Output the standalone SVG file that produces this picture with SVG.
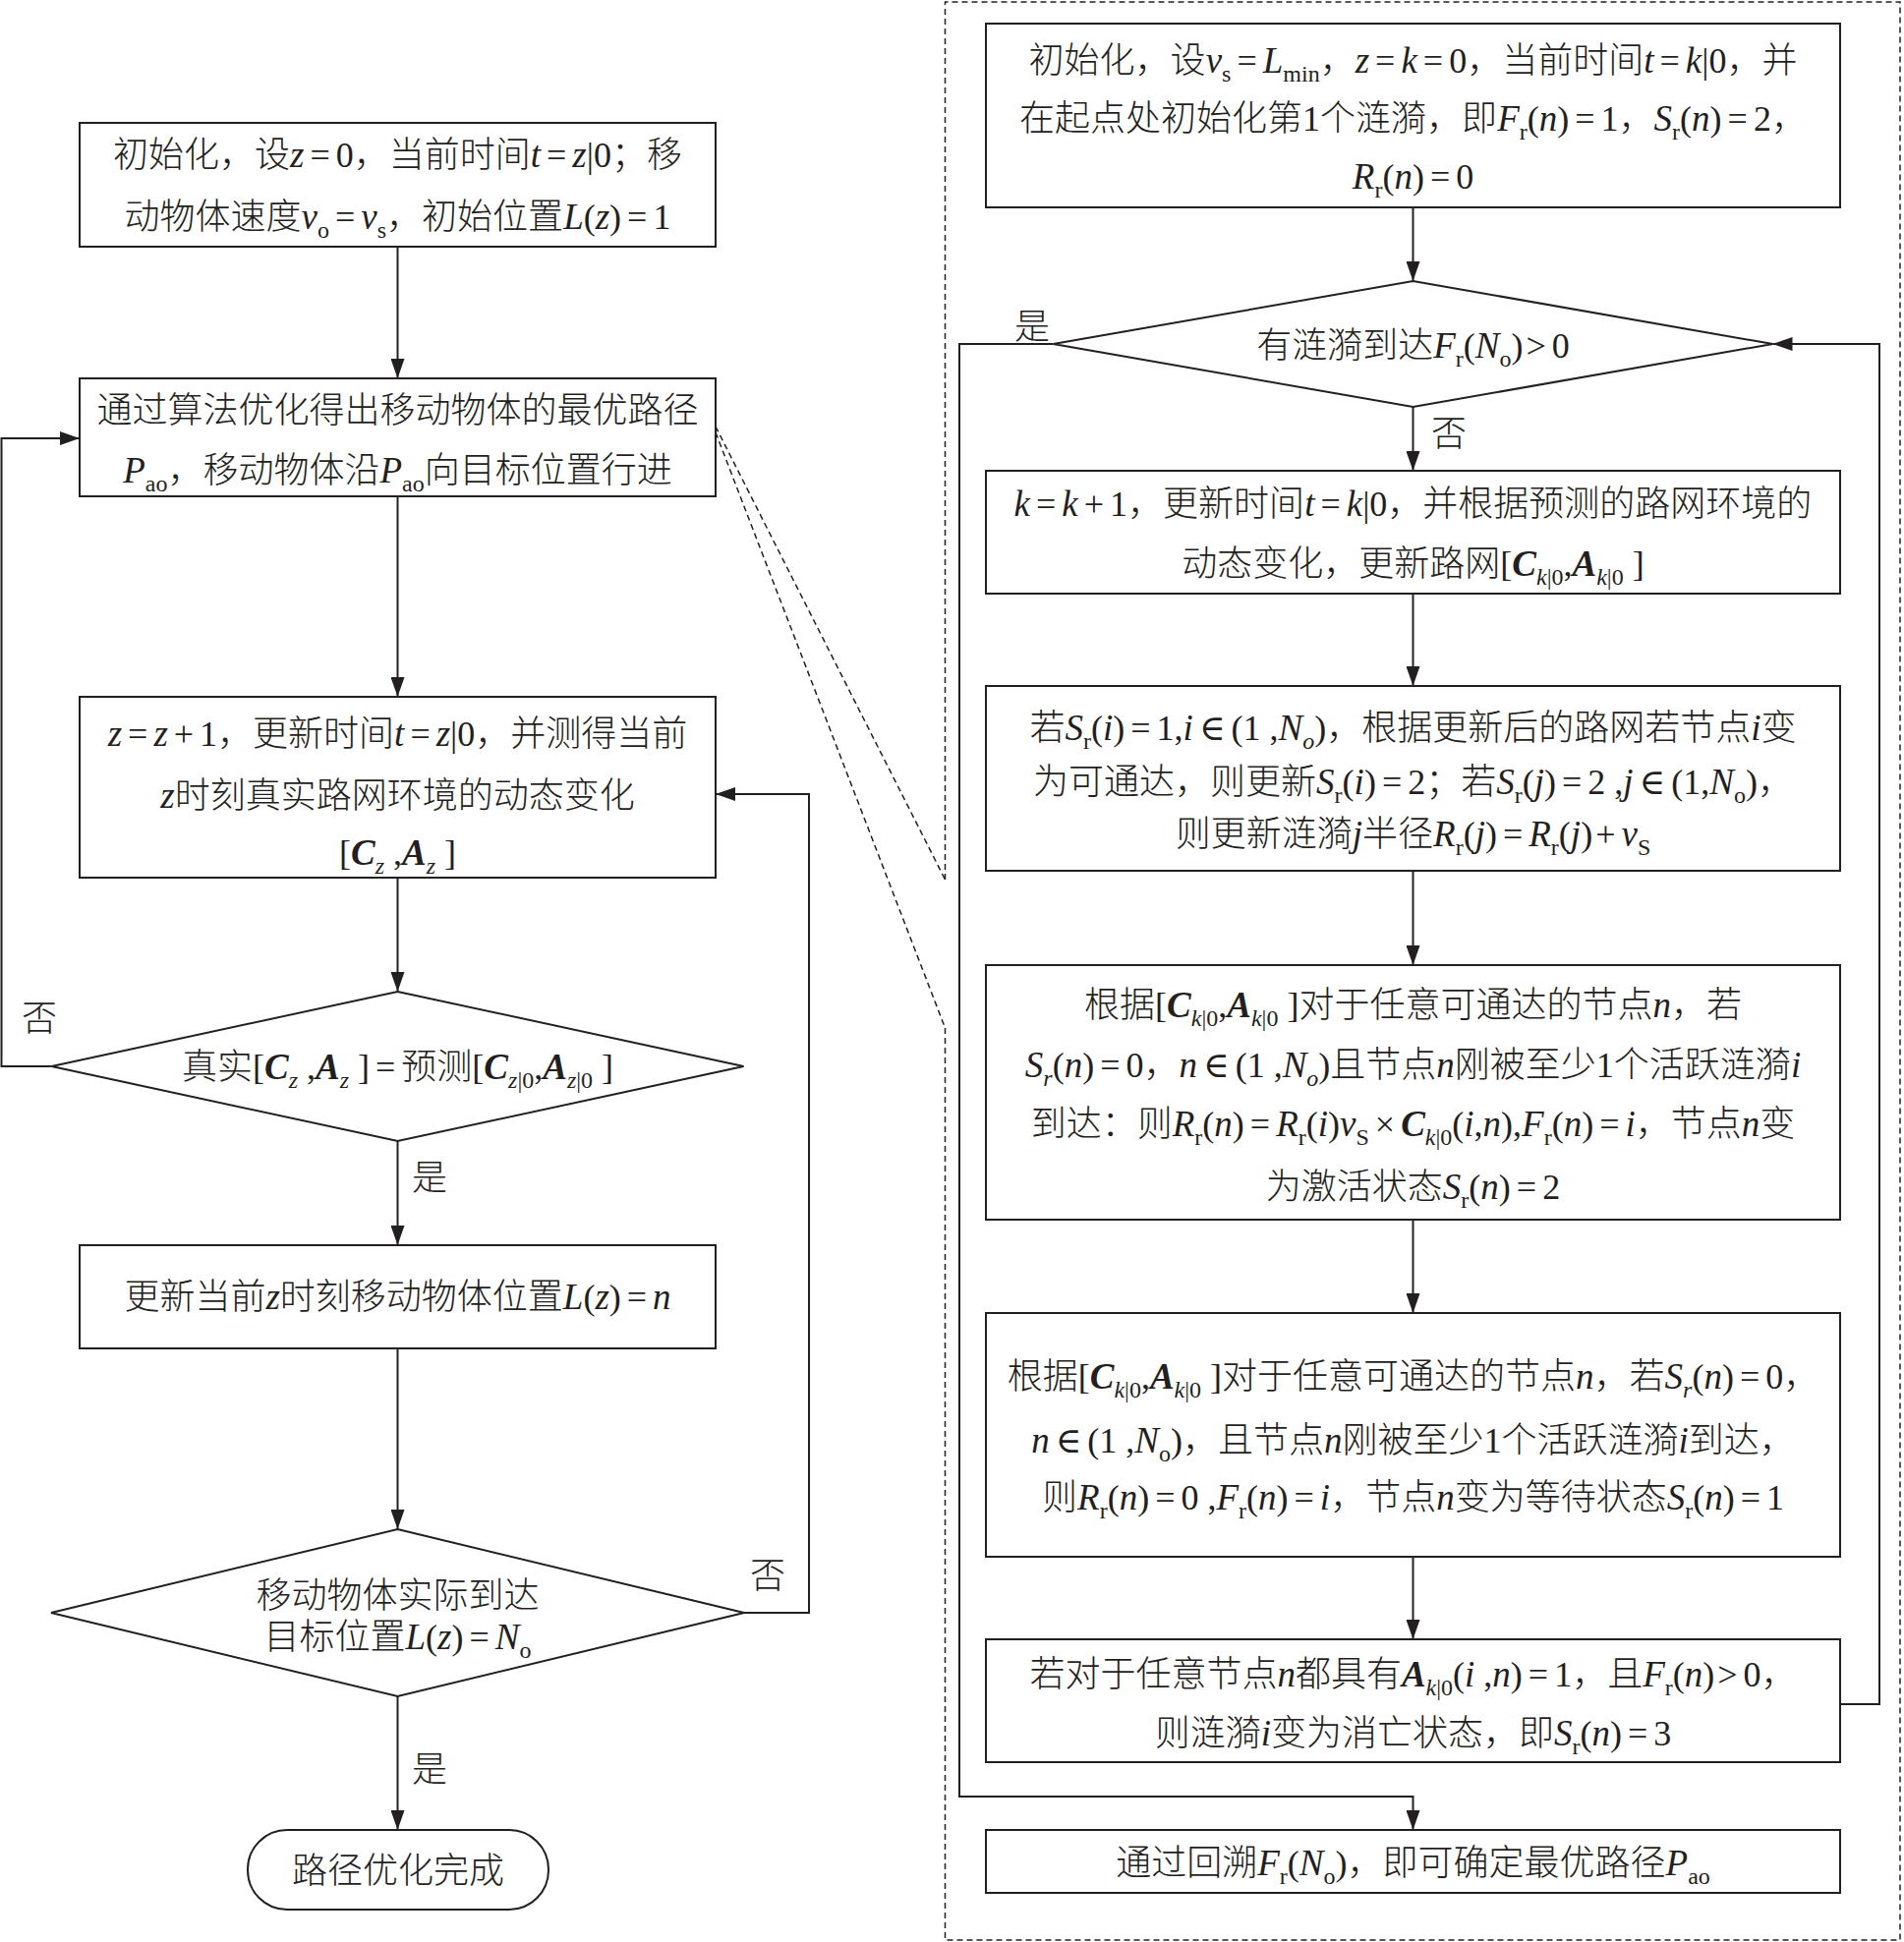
<svg xmlns="http://www.w3.org/2000/svg" width="1937" height="1976" viewBox="0 0 1937 1976">
<style>
text{font-family:"Liberation Serif","DejaVu Serif","Noto Sans CJK SC",serif;font-size:36px;font-weight:300;fill:#231f20;text-anchor:middle}
.i{font-style:italic;font-size:37px}
.b{font-style:italic;font-weight:bold;font-size:37px}
.s{font-size:24px}
.o{letter-spacing:6px}
.box{fill:#fff;stroke:#231f20;stroke-width:2}
.ln{fill:none;stroke:#231f20;stroke-width:2}
.ar{marker-end:url(#ah)}
.dash{fill:none;stroke:#231f20;stroke-width:1.5;stroke-dasharray:6 4}
</style>
<defs>
<marker id="ah" markerUnits="userSpaceOnUse" markerWidth="20" markerHeight="14" refX="20" refY="7" orient="auto"><path d="M0,0L20,7L0,14z" fill="#231f20"/></marker>
</defs>
<rect width="1937" height="1976" fill="#fff"/>

<g id="frame">
<path class="dash" d="M961.5,895V2H1933V1974H961.5V1046"/>
<path class="dash" d="M728,434L961.5,895M728,440L961.5,1046"/>
</g>

<g id="connectors">
<path class="ln ar" d="M404.5,251V385"/>
<path class="ln ar" d="M404.5,505V709"/>
<path class="ln ar" d="M404.5,893V1009"/>
<path class="ln ar" d="M404.5,1161V1267"/>
<path class="ln ar" d="M404.5,1372V1556"/>
<path class="ln ar" d="M404.5,1726V1862"/>
<path class="ln ar" d="M52.5,1085H1.5V446H81"/>
<path class="ln ar" d="M757,1641H823V808H728"/>
<path class="ln ar" d="M1437.5,211V286"/>
<path class="ln ar" d="M1437.5,414V479"/>
<path class="ln ar" d="M1437.5,604V698"/>
<path class="ln ar" d="M1437.5,886V982"/>
<path class="ln ar" d="M1437.5,1241V1336"/>
<path class="ln ar" d="M1437.5,1584V1668"/>
<path class="ln ar" d="M1872,1734H1912V350H1803.5"/>
<path class="ln ar" d="M1071.5,350H976V1828H1437.5V1862"/>
<text x="40" y="1049">否</text>
<text x="437" y="1211">是</text>
<text x="781" y="1616">否</text>
<text x="437" y="1813">是</text>
<text x="1050" y="345">是</text>
<text x="1474" y="454">否</text>
</g>

<g id="box1">
<rect class="box" x="81" y="125" width="647" height="126"/>
<text x="404.5" y="170">初始化，设<tspan class="i">z</tspan><tspan class="o" dx="6">=</tspan>0，当前时间<tspan class="i">t</tspan><tspan class="o" dx="6">=</tspan><tspan class="i">z</tspan>|0；移</text>
<text x="404.5" y="233">动物体速度<tspan class="i">v</tspan><tspan class="s" dy="9">o</tspan><tspan class="o" dx="6" dy="-9">=</tspan><tspan class="i">v</tspan><tspan class="s" dy="9">s</tspan><tspan dy="-9">，初始位置</tspan><tspan class="i">L</tspan>(<tspan class="i">z</tspan>)<tspan class="o" dx="6">=</tspan>1</text>
</g>

<g id="box2">
<rect class="box" x="81" y="385" width="647" height="120"/>
<text x="404.5" y="430">通过算法优化得出移动物体的最优路径</text>
<text x="404.5" y="491"><tspan class="i">P</tspan><tspan class="s" dy="9">ao</tspan><tspan dy="-9">，移动物体沿</tspan><tspan class="i">P</tspan><tspan class="s" dy="9">ao</tspan><tspan dy="-9">向目标位置行进</tspan></text>
</g>

<g id="box3">
<rect class="box" x="81" y="709" width="647" height="184"/>
<text x="404.5" y="759"><tspan class="i">z</tspan><tspan class="o" dx="6">=</tspan><tspan class="i">z</tspan><tspan class="o" dx="6">+</tspan>1，更新时间<tspan class="i">t</tspan><tspan class="o" dx="6">=</tspan><tspan class="i">z</tspan>|0，并测得当前</text>
<text x="404.5" y="822"><tspan class="i">z</tspan>时刻真实路网环境的动态变化</text>
<text x="404.5" y="880">[<tspan class="b">C</tspan><tspan class="s i" dy="9">z</tspan><tspan dy="-9"> ,</tspan><tspan class="b">A</tspan><tspan class="s i" dy="9">z</tspan><tspan dy="-9"> ]</tspan></text>
</g>

<g id="decision1">
<polygon class="box" points="404.5,1009 756.5,1085 404.5,1161 52.5,1085"/>
<text x="404.5" y="1098">真实[<tspan class="b">C</tspan><tspan class="s i" dy="9">z</tspan><tspan dy="-9"> ,</tspan><tspan class="b">A</tspan><tspan class="s i" dy="9">z</tspan><tspan dy="-9"> ]</tspan><tspan class="o" dx="6">=</tspan>预测[<tspan class="b">C</tspan><tspan class="s i" dy="9">z</tspan><tspan class="s">|0</tspan><tspan dy="-9">,</tspan><tspan class="b">A</tspan><tspan class="s i" dy="9">z</tspan><tspan class="s">|0</tspan><tspan dy="-9"> ]</tspan></text>
</g>

<g id="box4">
<rect class="box" x="81" y="1267" width="647" height="105"/>
<text x="404.5" y="1332">更新当前<tspan class="i">z</tspan>时刻移动物体位置<tspan class="i">L</tspan>(<tspan class="i">z</tspan>)<tspan class="o" dx="6">=</tspan><tspan class="i">n</tspan></text>
</g>

<g id="decision2">
<polygon class="box" points="404.5,1556 757,1641 404.5,1726 52,1641"/>
<text x="404.5" y="1636">移动物体实际到达</text>
<text x="404.5" y="1678">目标位置<tspan class="i">L</tspan>(<tspan class="i">z</tspan>)<tspan class="o" dx="6">=</tspan><tspan class="i">N</tspan><tspan class="s" dy="9">o</tspan></text>
</g>

<g id="end">
<rect class="box" x="252" y="1862" width="306" height="81" rx="40" ry="40"/>
<text x="405" y="1916">路径优化完成</text>
</g>

<g id="rbox1">
<rect class="box" x="1003" y="24" width="869" height="187"/>
<text x="1437.5" y="74">初始化，设<tspan class="i">v</tspan><tspan class="s" dy="9">s</tspan><tspan class="o" dx="6" dy="-9">=</tspan><tspan class="i">L</tspan><tspan class="s" dy="9">min</tspan><tspan dy="-9">，</tspan><tspan class="i">z</tspan><tspan class="o" dx="6">=</tspan><tspan class="i">k</tspan><tspan class="o" dx="6">=</tspan>0，当前时间<tspan class="i">t</tspan><tspan class="o" dx="6">=</tspan><tspan class="i">k</tspan>|0，并</text>
<text x="1437.5" y="133">在起点处初始化第1个涟漪，即<tspan class="i">F</tspan><tspan class="s" dy="9">r</tspan><tspan dy="-9">(</tspan><tspan class="i">n</tspan>)<tspan class="o" dx="6">=</tspan>1，<tspan class="i">S</tspan><tspan class="s" dy="9">r</tspan><tspan dy="-9">(</tspan><tspan class="i">n</tspan>)<tspan class="o" dx="6">=</tspan>2，</text>
<text x="1437.5" y="192"><tspan class="i">R</tspan><tspan class="s" dy="9">r</tspan><tspan dy="-9">(</tspan><tspan class="i">n</tspan>)<tspan class="o" dx="6">=</tspan>0</text>
</g>

<g id="rdecision">
<polygon class="box" points="1437.5,286 1803.5,350 1437.5,414 1071.5,350"/>
<text x="1437.5" y="364">有涟漪到达<tspan class="i">F</tspan><tspan class="s" dy="9">r</tspan><tspan dy="-9">(</tspan><tspan class="i">N</tspan><tspan class="s" dy="9">o</tspan><tspan dy="-9">)</tspan><tspan class="o" dx="3">&gt;</tspan>0</text>
</g>

<g id="rbox2">
<rect class="box" x="1003" y="479" width="869" height="125"/>
<text x="1437.5" y="525"><tspan class="i">k</tspan><tspan class="o" dx="6">=</tspan><tspan class="i">k</tspan><tspan class="o" dx="6">+</tspan>1，更新时间<tspan class="i">t</tspan><tspan class="o" dx="6">=</tspan><tspan class="i">k</tspan>|0，并根据预测的路网环境的</text>
<text x="1437.5" y="586">动态变化，更新路网[<tspan class="b">C</tspan><tspan class="s i" dy="9">k</tspan><tspan class="s">|0</tspan><tspan dy="-9">,</tspan><tspan class="b">A</tspan><tspan class="s i" dy="9">k</tspan><tspan class="s">|0</tspan><tspan dy="-9"> ]</tspan></text>
</g>

<g id="rbox3">
<rect class="box" x="1003" y="698" width="869" height="188"/>
<text x="1437.5" y="753">若<tspan class="i">S</tspan><tspan class="s" dy="9">r</tspan><tspan dy="-9">(</tspan><tspan class="i">i</tspan>)<tspan class="o" dx="6">=</tspan>1,<tspan class="i">i</tspan><tspan class="o" dx="6">∈</tspan>(1 ,<tspan class="i">N</tspan><tspan class="s i" dy="9">o</tspan><tspan dy="-9">)，根据更新后的路网若节点</tspan><tspan class="i">i</tspan>变</text>
<text x="1437.5" y="808">为可通达，则更新<tspan class="i">S</tspan><tspan class="s" dy="9">r</tspan><tspan dy="-9">(</tspan><tspan class="i">i</tspan>)<tspan class="o" dx="6">=</tspan>2；若<tspan class="i">S</tspan><tspan class="s" dy="9">r</tspan><tspan dy="-9">(</tspan><tspan class="i">j</tspan>)<tspan class="o" dx="6">=</tspan>2 ,<tspan class="i">j</tspan><tspan class="o" dx="6">∈</tspan>(1,<tspan class="i">N</tspan><tspan class="s" dy="9">o</tspan><tspan dy="-9">)，</tspan></text>
<text x="1437.5" y="861">则更新涟漪<tspan class="i">j</tspan>半径<tspan class="i">R</tspan><tspan class="s" dy="9">r</tspan><tspan dy="-9">(</tspan><tspan class="i">j</tspan>)<tspan class="o" dx="6">=</tspan><tspan class="i">R</tspan><tspan class="s" dy="9">r</tspan><tspan dy="-9">(</tspan><tspan class="i">j</tspan>)<tspan class="o" dx="3">+</tspan><tspan class="i">v</tspan><tspan class="s" dy="9">S</tspan></text>
</g>

<g id="rbox4">
<rect class="box" x="1003" y="982" width="869" height="259"/>
<text x="1437.5" y="1035">根据[<tspan class="b">C</tspan><tspan class="s i" dy="9">k</tspan><tspan class="s">|0</tspan><tspan dy="-9">,</tspan><tspan class="b">A</tspan><tspan class="s i" dy="9">k</tspan><tspan class="s">|0</tspan><tspan dy="-9"> ]对于任意可通达的节点</tspan><tspan class="i">n</tspan>，若</text>
<text x="1437.5" y="1096"><tspan class="i">S</tspan><tspan class="s i" dy="9">r</tspan><tspan dy="-9">(</tspan><tspan class="i">n</tspan>)<tspan class="o" dx="6">=</tspan>0，<tspan class="i">n</tspan><tspan class="o" dx="6">∈</tspan>(1 ,<tspan class="i">N</tspan><tspan class="s i" dy="9">o</tspan><tspan dy="-9">)且节点</tspan><tspan class="i">n</tspan>刚被至少1个活跃涟漪<tspan class="i">i</tspan></text>
<text x="1437.5" y="1156">到达：则<tspan class="i">R</tspan><tspan class="s" dy="9">r</tspan><tspan dy="-9">(</tspan><tspan class="i">n</tspan>)<tspan class="o" dx="6">=</tspan><tspan class="i">R</tspan><tspan class="s" dy="9">r</tspan><tspan dy="-9">(</tspan><tspan class="i">i</tspan>)<tspan class="i">v</tspan><tspan class="s" dy="9">S</tspan><tspan class="o" dx="6" dy="-9">×</tspan><tspan class="b">C</tspan><tspan class="s i" dy="9">k</tspan><tspan class="s">|0</tspan><tspan dy="-9">(</tspan><tspan class="i">i</tspan>,<tspan class="i">n</tspan>),<tspan class="i">F</tspan><tspan class="s" dy="9">r</tspan><tspan dy="-9">(</tspan><tspan class="i">n</tspan>)<tspan class="o" dx="6">=</tspan><tspan class="i">i</tspan>，节点<tspan class="i">n</tspan>变</text>
<text x="1437.5" y="1220">为激活状态<tspan class="i">S</tspan><tspan class="s" dy="9">r</tspan><tspan dy="-9">(</tspan><tspan class="i">n</tspan>)<tspan class="o" dx="6">=</tspan>2</text>
</g>

<g id="rbox5">
<rect class="box" x="1003" y="1336" width="869" height="248"/>
<text x="1437.5" y="1413">根据[<tspan class="b">C</tspan><tspan class="s i" dy="9">k</tspan><tspan class="s">|0</tspan><tspan dy="-9">,</tspan><tspan class="b">A</tspan><tspan class="s i" dy="9">k</tspan><tspan class="s">|0</tspan><tspan dy="-9"> ]对于任意可通达的节点</tspan><tspan class="i">n</tspan>，若<tspan class="i">S</tspan><tspan class="s i" dy="9">r</tspan><tspan dy="-9">(</tspan><tspan class="i">n</tspan>)<tspan class="o" dx="6">=</tspan>0，</text>
<text x="1437.5" y="1478"><tspan class="i">n</tspan><tspan class="o" dx="6">∈</tspan>(1 ,<tspan class="i">N</tspan><tspan class="s" dy="9">o</tspan><tspan dy="-9">)，且节点</tspan><tspan class="i">n</tspan>刚被至少1个活跃涟漪<tspan class="i">i</tspan>到达，</text>
<text x="1437.5" y="1536">则<tspan class="i">R</tspan><tspan class="s" dy="9">r</tspan><tspan dy="-9">(</tspan><tspan class="i">n</tspan>)<tspan class="o" dx="6">=</tspan>0 ,<tspan class="i">F</tspan><tspan class="s" dy="9">r</tspan><tspan dy="-9">(</tspan><tspan class="i">n</tspan>)<tspan class="o" dx="6">=</tspan><tspan class="i">i</tspan>，节点<tspan class="i">n</tspan>变为等待状态<tspan class="i">S</tspan><tspan class="s" dy="9">r</tspan><tspan dy="-9">(</tspan><tspan class="i">n</tspan>)<tspan class="o" dx="6">=</tspan>1</text>
</g>

<g id="rbox6">
<rect class="box" x="1003" y="1668" width="869" height="125"/>
<text x="1437.5" y="1716">若对于任意节点<tspan class="i">n</tspan>都具有<tspan class="b">A</tspan><tspan class="s i" dy="9">k</tspan><tspan class="s">|0</tspan><tspan dy="-9">(</tspan><tspan class="i">i</tspan> ,<tspan class="i">n</tspan>)<tspan class="o" dx="6">=</tspan>1，且<tspan class="i">F</tspan><tspan class="s" dy="9">r</tspan><tspan dy="-9">(</tspan><tspan class="i">n</tspan>)<tspan class="o" dx="3">&gt;</tspan>0，</text>
<text x="1437.5" y="1776">则涟漪<tspan class="i">i</tspan>变为消亡状态，即<tspan class="i">S</tspan><tspan class="s" dy="9">r</tspan><tspan dy="-9">(</tspan><tspan class="i">n</tspan>)<tspan class="o" dx="6">=</tspan>3</text>
</g>

<g id="rbox7">
<rect class="box" x="1003" y="1862" width="869" height="64"/>
<text x="1437.5" y="1908">通过回溯<tspan class="i">F</tspan><tspan class="s" dy="9">r</tspan><tspan dy="-9">(</tspan><tspan class="i">N</tspan><tspan class="s" dy="9">o</tspan><tspan dy="-9">)，即可确定最优路径</tspan><tspan class="i">P</tspan><tspan class="s" dy="9">ao</tspan></text>
</g>
</svg>
